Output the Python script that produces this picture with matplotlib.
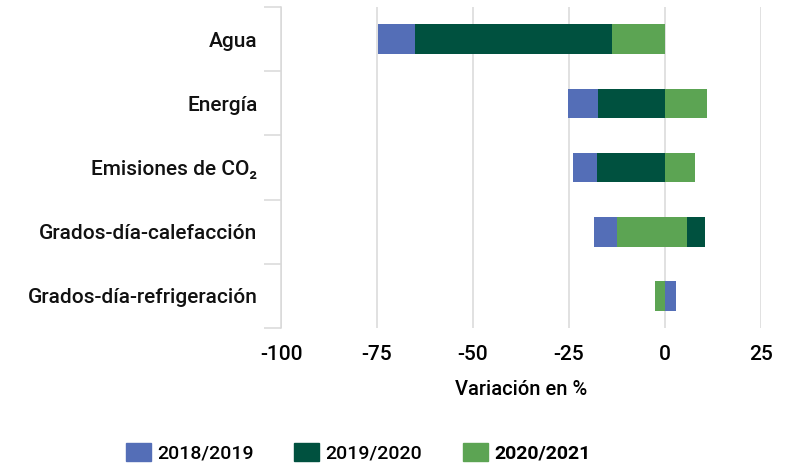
import numpy as np
import matplotlib
matplotlib.use("Agg")
import matplotlib.pyplot as plt
from matplotlib.patches import Patch

plt.rcParams["font.family"] = ["Roboto", "DejaVu Sans"]

# categorias (arriba -> abajo) y series: tramo [inicio, fin] de cada barra en %
CATS = ["Agua", "Energía", "Emisiones de CO₂",
        "Grados-día-calefacción", "Grados-día-refrigeración"]
SERIES = ["2018/2019", "2019/2020", "2020/2021"]
LO_1819 = [-74.8, -25.2, -23.9, -18.5, 0.0]
HI_1819 = [-65.2, -17.4, -17.6, -12.4, 2.9]
LO_1920 = [-65.2, -17.4, -17.6, 5.8, 0.0]
HI_1920 = [-13.8, 0.0, 0.0, 10.5, 0.0]
LO_2021 = [-13.8, 0.0, 0.0, -12.4, -2.5]
HI_2021 = [0.0, 11.0, 7.9, 5.8, 0.0]
COLORS = ["#546EB7", "#00513F", "#5CA453"]
XTICKS = [-100, -75, -50, -25, 0, 25]

fig = plt.figure(figsize=(7.85, 4.68), dpi=100)
ax = fig.add_axes([0.358, 0.299, 0.611, 0.686])

y = np.arange(len(CATS))
for lo, hi, col in [(LO_1819, HI_1819, COLORS[0]),
                    (LO_1920, HI_1920, COLORS[1]),
                    (LO_2021, HI_2021, COLORS[2])]:
    lo, hi = np.array(lo), np.array(hi)
    ax.barh(y, hi - lo, left=lo, height=0.46, color=col, zorder=3)

ax.set_xlim(-100, 25)
ax.set_ylim(len(CATS) - 0.5, -0.5)
ax.set_xticks(XTICKS)
ax.set_xticklabels([f"{t}" for t in XTICKS], fontsize=15, fontweight="medium")
ax.tick_params(axis="x", length=0, pad=12)
ax.set_yticks(y)
ax.set_yticklabels(CATS, fontsize=15, fontweight="medium", color="#111111")
ax.tick_params(axis="y", which="major", length=0, pad=17)
ax.set_yticks(np.arange(len(CATS) + 1) - 0.5, minor=True)
ax.tick_params(axis="y", which="minor", length=12.5, width=1.1, color="#d9d9d9")
for s in ["top", "right", "bottom"]:
    ax.spines[s].set_visible(False)
ax.spines["left"].set_color("#d9d9d9")
ax.spines["left"].set_linewidth(1.1)
ax.grid(axis="x", color="#d9d9d9", linewidth=1.1, zorder=0)
ax.set_xlabel("Variación en %", fontsize=14.5, fontweight="medium", labelpad=12)

handles = [Patch(color=c, label=s) for c, s in zip(COLORS, SERIES)]
leg = fig.legend(handles=handles, loc="lower center", ncol=3, frameon=False,
                 bbox_to_anchor=(0.456, -0.025), fontsize=14,
                 handlelength=1.3, handleheight=1.05, handletextpad=0.3,
                 columnspacing=2.1)
for t in leg.get_texts()[:2]:
    t.set_fontweight("medium")
leg.get_texts()[2].set_fontweight("bold")

fig.savefig("out.png", dpi=100)
